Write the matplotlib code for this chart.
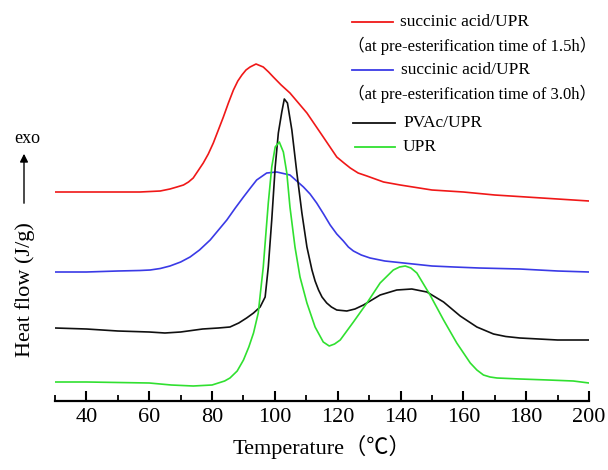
import matplotlib
matplotlib.use("Agg")
import matplotlib.pyplot as plt
from matplotlib.lines import Line2D

plt.rcParams['font.family'] = ['Liberation Serif', 'Noto Sans CJK SC']

# DSC curves, heat flow in arbitrary (offset) units
t_red = [30, 40, 50, 57, 60.3, 63.5, 66.6, 68.8, 70.9, 72.5, 74, 75.5, 77.2, 78.8, 80.4, 83.6,
         85.2, 86.8, 88.2, 89.5, 90.8, 92.1, 94, 96.3, 98, 99.5, 102, 104.8, 107.5, 110.2, 115.4,
         119.7, 122, 124, 126.5, 129.3, 134.6, 139.9, 150, 160, 170, 180, 190, 200]
hf_red = [2.09, 2.09, 2.09, 2.09, 2.095, 2.10, 2.12, 2.14, 2.16, 2.19, 2.23, 2.30, 2.38, 2.47,
          2.58, 2.84, 2.98, 3.11, 3.20, 3.26, 3.31, 3.34, 3.37, 3.34, 3.29, 3.24, 3.16, 3.08,
          2.98, 2.88, 2.64, 2.44, 2.38, 2.33, 2.28, 2.25, 2.19, 2.16, 2.11, 2.09, 2.06, 2.04,
          2.02, 2.00]

t_blue = [30, 40, 50, 57, 60.3, 63.5, 66.6, 70, 73, 76, 79.4, 84.7, 87.4, 90, 92.2, 94.2, 97.4,
          100.6, 104.8, 109.1, 111.2, 113.3, 115.5, 117.6, 119.7, 121.8, 123.4, 125, 127.5,
          130.3, 135, 141, 150, 157, 165, 178, 190, 200]
hf_blue = [1.29, 1.29, 1.30, 1.305, 1.31, 1.325, 1.35, 1.39, 1.44, 1.51, 1.61, 1.81, 1.93, 2.04,
           2.13, 2.21, 2.28, 2.29, 2.26, 2.14, 2.07, 1.98, 1.87, 1.76, 1.67, 1.60, 1.54, 1.50,
           1.46, 1.43, 1.40, 1.38, 1.35, 1.34, 1.33, 1.32, 1.30, 1.29]

t_black = [30, 40, 50, 60, 65, 70, 77, 82, 85.7, 88.5, 91, 93.2, 95.3, 96.9, 97.9, 99, 100.1,
           101.1, 102.2, 103, 104, 105.4, 107, 108.6, 110.2, 111.8, 112.8, 113.9, 115, 116.5,
           118, 119.7, 122.9, 125.5, 128.2, 133.5, 138.8, 143.6, 148.4, 153.7, 159, 164.3,
           169.6, 173.5, 178, 190, 200]
hf_black = [0.73, 0.72, 0.70, 0.69, 0.68, 0.69, 0.72, 0.73, 0.74, 0.78, 0.83, 0.88, 0.94, 1.04,
            1.34, 1.81, 2.34, 2.68, 2.89, 3.02, 2.98, 2.71, 2.28, 1.88, 1.54, 1.31, 1.20, 1.11,
            1.04, 0.98, 0.94, 0.91, 0.90, 0.92, 0.96, 1.06, 1.11, 1.12, 1.09, 0.99, 0.85, 0.74,
            0.67, 0.645, 0.63, 0.61, 0.61]

t_green = [30, 40, 50, 60, 67, 74, 80, 84, 85.7, 88, 90, 91.7, 93.2, 94.7, 96.3, 97.9, 99, 100.1,
           101.4, 102.7, 103.8, 104.8, 106.4, 108, 110.2, 112.8, 115.4, 117.3, 119, 120.8, 125,
           129.3, 133.5, 137.7, 139.7, 141.5, 143.3, 145.2, 149.4, 153.7, 157.9, 162.2, 164.3,
           166.4, 168.5, 170.7, 178, 187, 195, 200]
hf_green = [0.19, 0.19, 0.185, 0.18, 0.16, 0.15, 0.16, 0.20, 0.23, 0.30, 0.41, 0.54, 0.68, 0.88,
            1.34, 1.98, 2.34, 2.54, 2.59, 2.49, 2.28, 1.94, 1.54, 1.24, 0.98, 0.74, 0.59, 0.55,
            0.57, 0.61, 0.79, 0.98, 1.18, 1.31, 1.34, 1.35, 1.33, 1.28, 1.06, 0.81, 0.58, 0.38,
            0.31, 0.26, 0.24, 0.23, 0.22, 0.21, 0.20, 0.18]

labels = ['succinic acid/UPR', 'succinic acid/UPR', 'PVAc/UPR', 'UPR']
notes = ['（at pre-esterification time of 1.5h）', '（at pre-esterification time of 3.0h）']
colors = ['#f01818', '#3a3ae6', '#101010', '#30e030']

W, H = 608, 470
fig = plt.figure(figsize=(W / 100, H / 100), dpi=100)
ax = fig.add_axes([55 / W, 69 / H, 534 / W, 401 / H])


def fp(x, y):
    # figure pixel (from top-left) -> figure fraction
    return x / W, 1 - y / H


for t, hf, c in zip([t_red, t_blue, t_black, t_green],
                    [hf_red, hf_blue, hf_black, hf_green], colors):
    ax.plot(t, hf, color=c, lw=1.2, solid_joinstyle='round')

ax.set_xlim(30, 200)
ax.set_ylim(0, 4.01)
for s in ['left', 'top', 'right']:
    ax.spines[s].set_visible(False)
ax.spines['bottom'].set_linewidth(1.6)
ax.set_yticks([])
ax.set_xticks(range(40, 201, 20))
ax.set_xticks(range(30, 200, 20), minor=True)
ax.tick_params(axis='x', which='major', direction='in', length=7, width=1.5,
               labelsize=16, pad=5)
ax.tick_params(axis='x', which='minor', direction='in', length=4, width=1.3)
ax.set_xlabel('Temperature（℃）', fontsize=16, labelpad=6)

# y label with exo arrow
fig.text(*fp(25, 290), 'Heat flow (J/g)', rotation=90, ha='center', va='center', fontsize=16)
fig.text(*fp(27, 139), 'exo', ha='center', va='center', fontsize=13)
ax.annotate('', xy=fp(24, 151), xytext=fp(24, 206), xycoords='figure fraction',
            textcoords='figure fraction',
            arrowprops=dict(arrowstyle='-|>', color='black', lw=1.0, mutation_scale=12))

# legend
key_rows = [22, 70, 123, 147]
key_x = [(352, 393, 400), (352, 393, 401), (353, 395, 403), (355, 395, 403)]
for (x0, x1, xt), y, c, lab in zip(key_x, key_rows, colors, labels):
    a, b = fp(x0, y), fp(x1, y)
    fig.add_artist(Line2D([a[0], b[0]], [a[1], b[1]], color=c, lw=1.3))
    fig.text(*fp(xt, y), lab, ha='left', va='center', fontsize=12.5)
for y, note in zip([46, 94], notes):
    fig.text(*fp(348, y), note, ha='left', va='center', fontsize=12)

fig.savefig('out.png', dpi=100)
